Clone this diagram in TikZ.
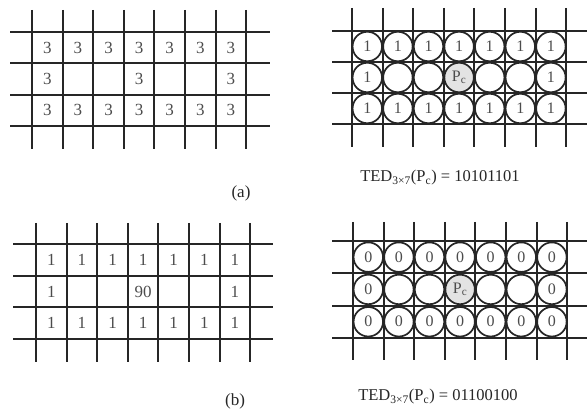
\documentclass[tikz,border=0pt]{standalone}
\usepackage{fontspec}
\setmainfont{Liberation Serif}
\newcommand{\mygrid}[8]{%
  \foreach \i in {0,...,7} \draw[gridline] ({#1+\i*#2},#5) -- ({#1+\i*#2},#6);
  \foreach \j in {0,...,3} \draw[gridline] (#7,{#3+\j*#4}) -- (#8,{#3+\j*#4});
}
\begin{document}
\begin{tikzpicture}[x=1pt,y=-1pt,
  gridline/.style={line width=2pt,black!85},
  num/.style={font=\fontsize{17}{17}\selectfont, text=black!70, inner sep=0pt},
  circ/.style={circle, draw=black!85, line width=1.7pt, fill=white, minimum size=29.5pt, inner sep=0pt, font=\fontsize{16}{16}\selectfont, text=black!70},
  pc/.style={circ, fill=gray!22},
  lbl/.style={font=\fontsize{17}{17}\selectfont, text=black!85}]
\useasboundingbox (0,0) rectangle (587,414);

% ---------- (a) left ----------
\mygrid{32}{30.6}{32}{31.3}{10}{149}{10}{270}
\foreach \i in {0,...,6} \foreach \j in {0,2}
  \node[num] (al-\j-\i) at ({32+(\i+0.5)*30.6},{32+(\j+0.5)*31.3}) {3};
\foreach \i in {0,3,6}
  \node[num] (al-1-\i) at ({32+(\i+0.5)*30.6},{32+1.5*31.3}) {3};

% ---------- (a) right ----------
\mygrid{352}{30.6}{31}{31}{8}{147}{332}{587}
\foreach \i in {0,...,6} \foreach \j in {0,2}
  \node[circ] (ar-\j-\i) at ({352+(\i+0.5)*30.6},{31+(\j+0.5)*31}) {1};
\foreach \i in {0,6}
  \node[circ] (ar-1-\i) at ({352+(\i+0.5)*30.6},{31+1.5*31}) {1};
\foreach \i in {1,2,4,5}
  \node[circ] (ar-1-\i) at ({352+(\i+0.5)*30.6},{31+1.5*31}) {};
\node[pc] (ar-1-3) at ({352+3.5*30.6},{31+1.5*31}) {P\textsubscript{c}};

\node[lbl] (lab-a) at (241,193) {(a)};
\node[lbl, font=\fontsize{16.5}{16.5}\selectfont] (ted-a) at (440,178) {TED\textsubscript{3×7}(P\textsubscript{c}) = 10101101};

% ---------- (b) left ----------
\mygrid{36}{30.6}{244}{31.7}{223}{362}{13}{273}
\foreach \i in {0,...,6} \foreach \j in {0,2}
  \node[num] (bl-\j-\i) at ({36+(\i+0.5)*30.6},{244+(\j+0.5)*31.7}) {1};
\foreach \i in {0,6}
  \node[num] (bl-1-\i) at ({36+(\i+0.5)*30.6},{244+1.5*31.7}) {1};
\node[num] (bl-1-3) at ({36+3.5*30.6},{244+1.5*31.7}) {90};

% ---------- (b) right ----------
\mygrid{353}{30.6}{241}{32.3}{222}{360}{332}{587}
\foreach \i in {0,...,6} \foreach \j in {0,2}
  \node[circ] (br-\j-\i) at ({353+(\i+0.5)*30.6},{241+(\j+0.5)*32.3}) {0};
\foreach \i in {0,6}
  \node[circ] (br-1-\i) at ({353+(\i+0.5)*30.6},{241+1.5*32.3}) {0};
\foreach \i in {1,2,4,5}
  \node[circ] (br-1-\i) at ({353+(\i+0.5)*30.6},{241+1.5*32.3}) {};
\node[pc] (br-1-3) at ({353+3.5*30.6},{241+1.5*32.3}) {P\textsubscript{c}};

\node[lbl] (lab-b) at (235,401) {(b)};
\node[lbl, font=\fontsize{16.5}{16.5}\selectfont] (ted-b) at (438,397) {TED\textsubscript{3×7}(P\textsubscript{c}) = 01100100};
\end{tikzpicture}
\end{document}
